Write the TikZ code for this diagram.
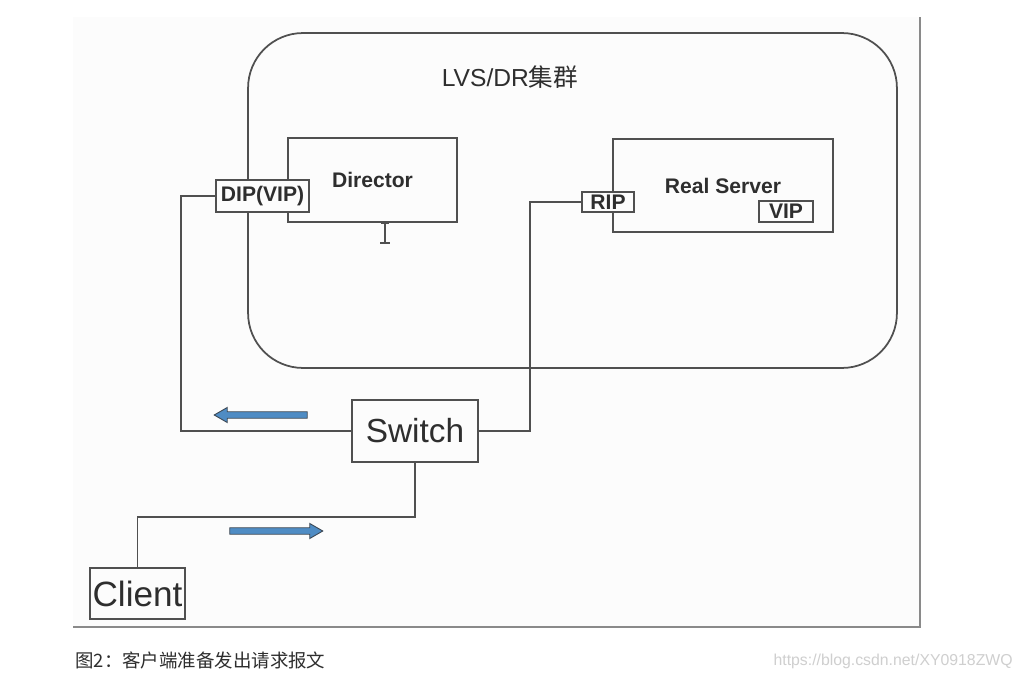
\documentclass[tikz,border=0pt]{standalone}
\usepackage{fontspec}
\setmainfont{Liberation Sans}
\newfontfamily\cjk{Noto Sans CJK SC}
\usepackage{tikz}
\usetikzlibrary{shapes,shapes.arrows,arrows.meta,positioning,calc}
\definecolor{lvsline}{HTML}{505050}
\definecolor{lvstext}{HTML}{2E2E2E}
\definecolor{lvspanel}{HTML}{FCFCFC}
\definecolor{lvsshadow}{HTML}{8A8A8A}
\definecolor{lvsblue}{HTML}{4F8CC4}
\definecolor{lvsedge}{HTML}{3B4652}
\definecolor{lvsmark}{HTML}{CFCFCF}
\tikzstyle{box} = [rectangle, draw=lvsline, line width=0.9pt, fill=lvspanel,
    text=lvstext, inner sep=0pt, font=\bfseries\fontsize{12}{14}\selectfont]
\tikzstyle{tag} = [box, fill=lvspanel]
\tikzstyle{plainbox} = [box, font=\fontsize{19}{22}\selectfont]
\tikzstyle{wire} = [draw=lvsline, line width=0.9pt]
\tikzstyle{flow} = [single arrow, draw=lvsedge, fill=lvsblue, line width=0.5pt,
    minimum height=1.86cm, minimum width=0.3cm, inner sep=0.055cm,
    single arrow head extend=0.085cm, single arrow tip angle=60]

\begin{document}
\begin{tikzpicture}[x=0.02cm, y=-0.02cm]
\useasboundingbox[fill=white] (0,0) rectangle (1022,679);
% screenshot panel
\fill[lvspanel] (73,17) rectangle (920,627);
\draw[lvsshadow, line width=1.6pt] (73,627) -- (920,627) -- (920,17);

% cluster
\node[draw=lvsline, line width=1pt, rounded corners=1.1cm, minimum width=12.98cm,
    minimum height=6.7cm] (cluster) at (572.5,200.5) {};
\node[text=lvstext, font=\fontsize{14}{16}\selectfont] (title) at (510,77) {LVS/DR{\cjk 集群}};

\node[box, minimum width=3.38cm, minimum height=1.68cm] (director) at (372.5,180) {Director};
\node[box, minimum width=4.4cm, minimum height=1.86cm] (server) at (723,185.5) {Real Server};
\node[tag, minimum width=1.86cm, minimum height=0.64cm] (dip) at (262.5,196) {DIP(VIP)};
\node[tag, minimum width=1.04cm, minimum height=0.4cm] (rip) at (608,202) {RIP};
\node[tag, minimum width=1.08cm, minimum height=0.42cm] (vip) at (786,211.5) {VIP};

\node[plainbox, minimum width=2.52cm, minimum height=1.24cm] (switch) at (415,431) {Switch};
\node[plainbox, font=\fontsize{20}{23}\selectfont, minimum width=1.9cm, minimum height=1.02cm] (client) at (137.5,593.5) {Client};

% text cursor under the director
\draw[lvsline, line width=0.7pt] (381,223) -- (389,223) (385,223) -- (385,243) (380,243) -- (390,243);

% links
\draw[wire] (dip.west) -- ++(-34,0) |- (switch.west);
\draw[wire] (rip.west) -- ++(-51,0) |- (switch.east);
\draw[wire] (switch.south) -- ++(0,54) -| (client.north);

% packet direction
\node[flow, shape border rotate=180] (back) at (263.5,415) {};
\node[flow] (forth) at (273.5,531) {};

% caption
\node[anchor=west, inner sep=0pt, text=lvstext, font=\cjk\fontsize{10.5}{12}\selectfont] (caption) at (75,660) {图2：客户端准备发出请求报文};
\node[anchor=east, inner sep=0pt, text=lvsmark, font=\fontsize{9}{11}\selectfont] (mark) at (1013,661) {https://blog.csdn.net/XY0918ZWQ};
\end{tikzpicture}
\end{document}
